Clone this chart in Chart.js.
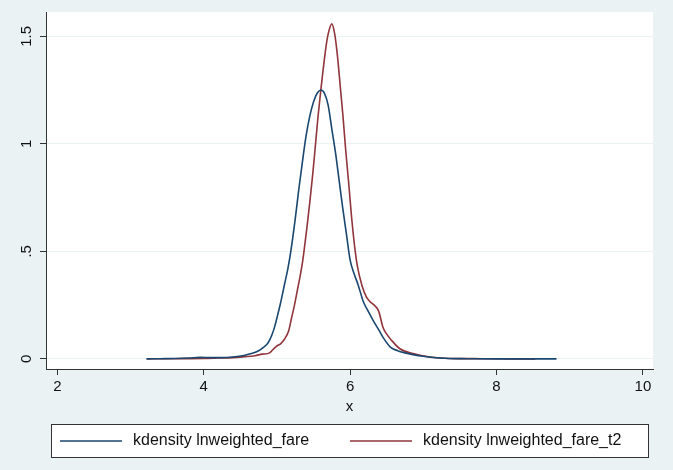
<!DOCTYPE html>
<html>
<head>
<meta charset="utf-8">
<script src="https://cdn.jsdelivr.net/npm/chart.js@4.4.1/dist/chart.umd.min.js"></script>
<style>
  html, body { margin: 0; padding: 0; background: #eaf2f3; }
  #wrap { width: 673px; height: 470px; }
</style>
</head>
<body>
<div id="wrap"><canvas id="c" width="673" height="470"></canvas></div>
<script>
// ---- data ----
const seriesLabels = ['kdensity lnweighted_fare', 'kdensity lnweighted_fare_t2'];

const xFare = [3.22, 3.4, 3.6, 3.8, 3.95, 4.1, 4.25, 4.4, 4.55, 4.65, 4.75, 4.82, 4.88, 4.93, 4.97, 5.0, 5.05, 5.1, 5.15, 5.19, 5.25, 5.3, 5.35, 5.4, 5.45, 5.5, 5.55, 5.6, 5.65, 5.7, 5.75, 5.8, 5.85, 5.9, 5.95, 6.0, 6.05, 6.11, 6.18, 6.25, 6.32, 6.4, 6.45, 6.55, 6.65, 6.75, 6.86, 7.0, 7.1, 7.35, 7.6, 8.0, 8.4, 8.82];
const densFare = [0.000, 0.001, 0.002, 0.004, 0.007, 0.006, 0.006, 0.009, 0.016, 0.025, 0.038, 0.055, 0.075, 0.11, 0.15, 0.19, 0.26, 0.34, 0.42, 0.5, 0.65, 0.79, 0.92, 1.04, 1.13, 1.195, 1.235, 1.25, 1.235, 1.18, 1.07, 0.96, 0.83, 0.7, 0.58, 0.46, 0.4, 0.344, 0.267, 0.22, 0.176, 0.13, 0.1, 0.055, 0.038, 0.028, 0.02, 0.012, 0.008, 0.002, 0.001, 0.0, 0.0, 0.0];

const xFareT2 = [3.22, 3.6, 4.0, 4.2, 4.4, 4.55, 4.7, 4.8, 4.9, 4.95, 5.0, 5.05, 5.1, 5.16, 5.2, 5.24, 5.28, 5.32, 5.35, 5.37, 5.41, 5.45, 5.49, 5.52, 5.56, 5.6, 5.63, 5.67, 5.7, 5.75, 5.79, 5.83, 5.87, 5.9, 5.94, 5.98, 6.02, 6.07, 6.1, 6.16, 6.22, 6.27, 6.33, 6.39, 6.45, 6.5, 6.57, 6.68, 6.86, 7.09, 7.36, 7.8, 8.2, 8.53];
const densFareT2 = [0.000, 0.001, 0.002, 0.004, 0.006, 0.01, 0.015, 0.022, 0.028, 0.045, 0.06, 0.07, 0.09, 0.13, 0.19, 0.25, 0.32, 0.39, 0.45, 0.5, 0.61, 0.73, 0.86, 0.97, 1.12, 1.25, 1.34, 1.45, 1.51, 1.558, 1.51, 1.40, 1.25, 1.14, 0.97, 0.82, 0.66, 0.5, 0.43, 0.344, 0.29, 0.267, 0.25, 0.222, 0.146, 0.115, 0.085, 0.047, 0.025, 0.009, 0.002, 0.001, 0.0, 0.0];

const xTickValues = [2, 4, 6, 8, 10];
const xTickLabels = ['2', '4', '6', '8', '10'];
const yTickValues = [0, 0.5, 1, 1.5];
const yTickLabels = ['0', '.5', '1', '1.5'];
const xTitle = 'x';

// ---- styling ----
const BG = '#eaf2f3';
const AXIS = '#333333';
const colors = ['#1a476f', '#90353b'];
const FONT = '"Liberation Sans", Arial, Helvetica, sans-serif';
Chart.defaults.font.family = FONT;
Chart.defaults.color = '#111';

function toPts(xs, ys) { return xs.map((x, i) => ({ x: x, y: ys[i] })); }

const bgPlugin = {
  id: 'bg',
  beforeDraw(chart) {
    const { ctx, chartArea: a } = chart;
    ctx.save();
    ctx.fillStyle = BG;
    ctx.fillRect(0, 0, chart.width, chart.height);
    ctx.fillStyle = '#ffffff';
    ctx.fillRect(a.left, a.top, a.right - a.left, a.bottom - a.top);
    ctx.restore();
  }
};

const legendPlugin = {
  id: 'boxLegend',
  afterDraw(chart) {
    const ctx = chart.ctx;
    ctx.save();
    ctx.fillStyle = '#ffffff';
    ctx.fillRect(51, 424, 597, 33);
    ctx.strokeStyle = AXIS;
    ctx.lineWidth = 1;
    ctx.strokeRect(51.5, 424.5, 597, 33);
    const starts = [60, 350];
    const y = 441;
    chart.data.datasets.forEach((ds, i) => {
      const x0 = starts[i];
      ctx.strokeStyle = ds.borderColor;
      ctx.lineWidth = 1.5;
      ctx.beginPath();
      ctx.moveTo(x0, y);
      ctx.lineTo(x0 + 62, y);
      ctx.stroke();
      ctx.fillStyle = '#111';
      ctx.font = '16px ' + FONT;
      ctx.textAlign = 'left';
      ctx.textBaseline = 'middle';
      ctx.fillText(ds.label, x0 + 73, y);
    });
    ctx.restore();
  }
};

new Chart(document.getElementById('c'), {
  type: 'scatter',
  data: {
    datasets: [
      { label: seriesLabels[0], data: toPts(xFare, densFare), showLine: true, borderColor: colors[0], backgroundColor: colors[0], borderWidth: 1.6, pointRadius: 0, cubicInterpolationMode: 'monotone' },
      { label: seriesLabels[1], data: toPts(xFareT2, densFareT2), showLine: true, borderColor: colors[1], backgroundColor: colors[1], borderWidth: 1.6, pointRadius: 0, cubicInterpolationMode: 'monotone' }
    ]
  },
  options: {
    responsive: false,
    animation: false,
    layout: { padding: { top: 5, right: 20, left: 0, bottom: 54 } },
    plugins: { legend: { display: false }, tooltip: { enabled: false } },
    scales: {
      x: {
        type: 'linear',
        min: 1.8456,
        max: 10.138,
        afterFit(s) { s.height = 47; },
        afterBuildTicks(s) { s.ticks = xTickValues.map(v => ({ value: v })); },
        ticks: {
          autoSkip: false, maxRotation: 0, minRotation: 0, padding: 3,
          font: { size: 15 }, color: '#111',
          callback(v, i) { return xTickLabels[i]; }
        },
        grid: { drawOnChartArea: false, tickColor: AXIS, tickLength: 6, lineWidth: 1 },
        border: { display: true, color: AXIS, width: 1 },
        title: { display: true, text: xTitle, font: { size: 15 }, color: '#111', padding: { top: 0, bottom: 0 } }
      },
      y: {
        type: 'linear',
        min: -0.047,
        max: 1.613,
        afterFit(s) { s.width = 46; },
        afterBuildTicks(s) { s.ticks = yTickValues.map(v => ({ value: v })); },
        ticks: {
          autoSkip: false, minRotation: 90, maxRotation: 90, crossAlign: 'center', padding: 3,
          font: { size: 15 }, color: '#111',
          callback(v, i) { return yTickLabels[i]; }
        },
        grid: { color: BG, lineWidth: 1, tickColor: AXIS, tickLength: 6 },
        border: { display: true, color: AXIS, width: 1 }
      }
    }
  },
  plugins: [bgPlugin, legendPlugin]
});
</script>
</body>
</html>
